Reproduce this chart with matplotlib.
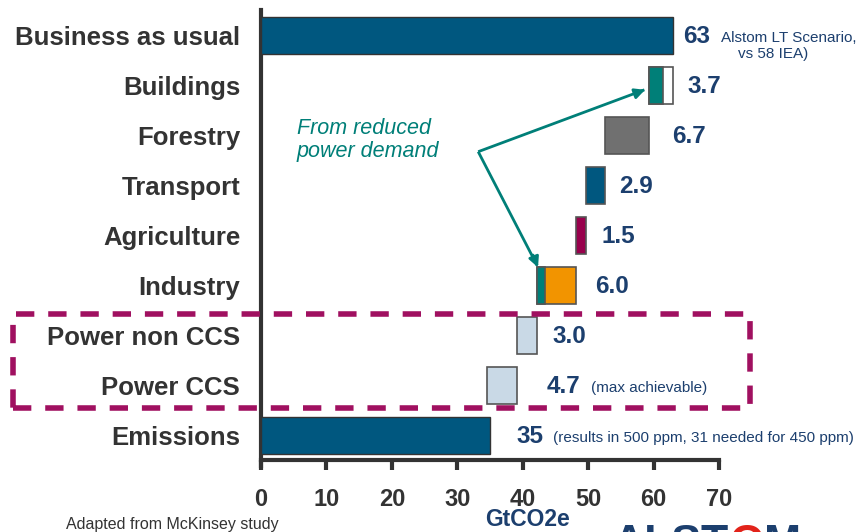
import matplotlib
matplotlib.use("Agg")
import matplotlib.pyplot as plt
from matplotlib.patches import Rectangle

# ---------------- data ----------------
categories = ["Business as usual", "Buildings", "Forestry", "Transport",
              "Agriculture", "Industry", "Power non CCS", "Power CCS", "Emissions"]
values = [63, 3.7, 6.7, 2.9, 1.5, 6.0, 3.0, 4.7, 35]
value_labels = ["63", "3.7", "6.7", "2.9", "1.5", "6.0", "3.0", "4.7", "35"]
notes = ["Alstom LT Scenario,\n    vs 58 IEA)", "", "", "", "", "", "", "(max achievable)",
         "(results in 500 ppm, 31 needed for 450 ppm)"]
# share of the reduction coming from reduced power demand (teal part)
power_demand_part = [0, 2.2, 0, 0, 0, 1.2, 0, 0, 0]
x_ticks = [0, 10, 20, 30, 40, 50, 60, 70]
x_label = "GtCO2e"
annotation = "From reduced\npower demand"
source = "Adapted from McKinsey study"
logo_parts = ["ALST", "O", "M"]

# ---------------- styles ----------------
NAVY = "#1c3f6e"
BLUE = "#00577f"
TEAL = "#007f78"
GRAY = "#707070"
MAGENTA = "#98004c"
ORANGE = "#f29400"
LIGHT = "#c9d9e6"
EDGE = "#555555"
LABEL = "#333333"
BOX = "#a01060"
RED = "#e2231a"
bar_colors = [BLUE, "white", GRAY, BLUE, MAGENTA, ORANGE, LIGHT, LIGHT, BLUE]
logo_colors = [NAVY, RED, NAVY]
label_dx = [1.5, 2.2, 3.6, 2.2, 2.3, 2.8, 2.3, 4.4, 4.0]
note_dx = [7.3, 0, 0, 0, 0, 0, 0, 11.2, 9.7]

plt.rcParams["font.family"] = ["Liberation Sans", "DejaVu Sans"]

W, H = 867, 532
fig = plt.figure(figsize=(W / 100, H / 100), dpi=100)
ax = fig.add_axes([261 / W, 1 - 460 / H, 458 / W, 450 / H])

n = len(categories)
ax.set_xlim(0, 70)
ax.set_ylim(n - 0.5, -0.52)
bh = 0.74

# waterfall
level = values[0]
for i, v in enumerate(values):
    if i == 0 or i == n - 1:
        left = 0
    else:
        left = level - v
        level = left
    width = v
    if i == 0 or i == n - 1:
        ax.barh(i, width, left=left, height=bh, color=bar_colors[i],
                edgecolor="#333333", linewidth=1.0, zorder=3)
    else:
        ax.barh(i, width, left=left, height=bh, color=bar_colors[i],
                edgecolor=EDGE, linewidth=1.2, zorder=3)
        if power_demand_part[i] > 0:
            ax.barh(i, power_demand_part[i], left=left, height=bh, color=TEAL,
                    edgecolor=EDGE, linewidth=1.2, zorder=4)
    end = left + width
    ax.text(end + label_dx[i], i + 0.02, value_labels[i], color=NAVY, fontsize=17.5,
            fontweight="bold", va="center", ha="left", zorder=5)
    if notes[i]:
        dy = 0.2 if i == 0 else 0.05
        ax.text(end + note_dx[i], i + dy, notes[i], color=NAVY, fontsize=11,
                va="center", ha="left", linespacing=1.15, clip_on=False)

ax.set_yticks(range(n))
ax.set_yticklabels(categories, fontsize=18.5, fontweight="bold", color=LABEL)
ax.tick_params(axis="y", length=0, pad=15)

ax.set_xticks(x_ticks)
ax.set_xticklabels([str(x) for x in x_ticks], fontsize=17, fontweight="bold",
                   color=LABEL)
ax.tick_params(axis="x", direction="out", length=7, width=3, color="#333333", pad=13)

for s in ["top", "right"]:
    ax.spines[s].set_visible(False)
ax.spines["left"].set_linewidth(3)
ax.spines["left"].set_color("#333333")
ax.spines["bottom"].set_linewidth(3)
ax.spines["bottom"].set_color("#333333")
ax.spines["left"].set_bounds(n - 0.38, -0.52)

# annotation
ax.text(5.5, 2.08, annotation, color=TEAL, fontsize=15.5, style="italic",
        va="center", ha="left", linespacing=1.1)
vx, vy = 33.2, 2.32
ax.plot([vx, 58.6], [vy, 1.08], color=TEAL, lw=2, zorder=6, solid_capstyle="butt")
ax.annotate("", xy=(59.1, 1.06), xytext=(56.6, 1.18),
            arrowprops=dict(arrowstyle="-|>,head_length=0.6,head_width=0.3",
                            color=TEAL, lw=2), zorder=6)
ax.plot([vx, 42.2], [vy, 4.6], color=TEAL, lw=2, zorder=6, solid_capstyle="butt")
ax.annotate("", xy=(42.5, 4.69), xytext=(41.4, 4.34),
            arrowprops=dict(arrowstyle="-|>,head_length=0.6,head_width=0.3",
                            color=TEAL, lw=2), zorder=6)

# dashed box around power rows
box = Rectangle((13 / W, 1 - 408 / H), (750 - 13) / W, (408 - 314) / H,
                transform=fig.transFigure, fill=False, edgecolor=BOX, lw=4,
                linestyle=(0, (3.3, 2.5)), zorder=10)
fig.patches.append(box)

# footer texts
fig.text(528 / W, 1 - 519 / H, x_label, color=NAVY, fontsize=16.5, fontweight="bold",
         ha="center", va="center")
fig.text(66 / W, 1 - 524 / H, source, color=LABEL, fontsize=11.5, ha="left", va="center")

# partially visible logo at the bottom edge
renderer = fig.canvas.get_renderer()
x0 = 613
for part, col in zip(logo_parts, logo_colors):
    t = fig.text(x0 / W, 1 - 524 / H, part, color=col, fontsize=32, fontweight="bold",
                 ha="left", va="top")
    bb = t.get_window_extent(renderer)
    x0 += bb.width

fig.savefig("out.png", dpi=100)
